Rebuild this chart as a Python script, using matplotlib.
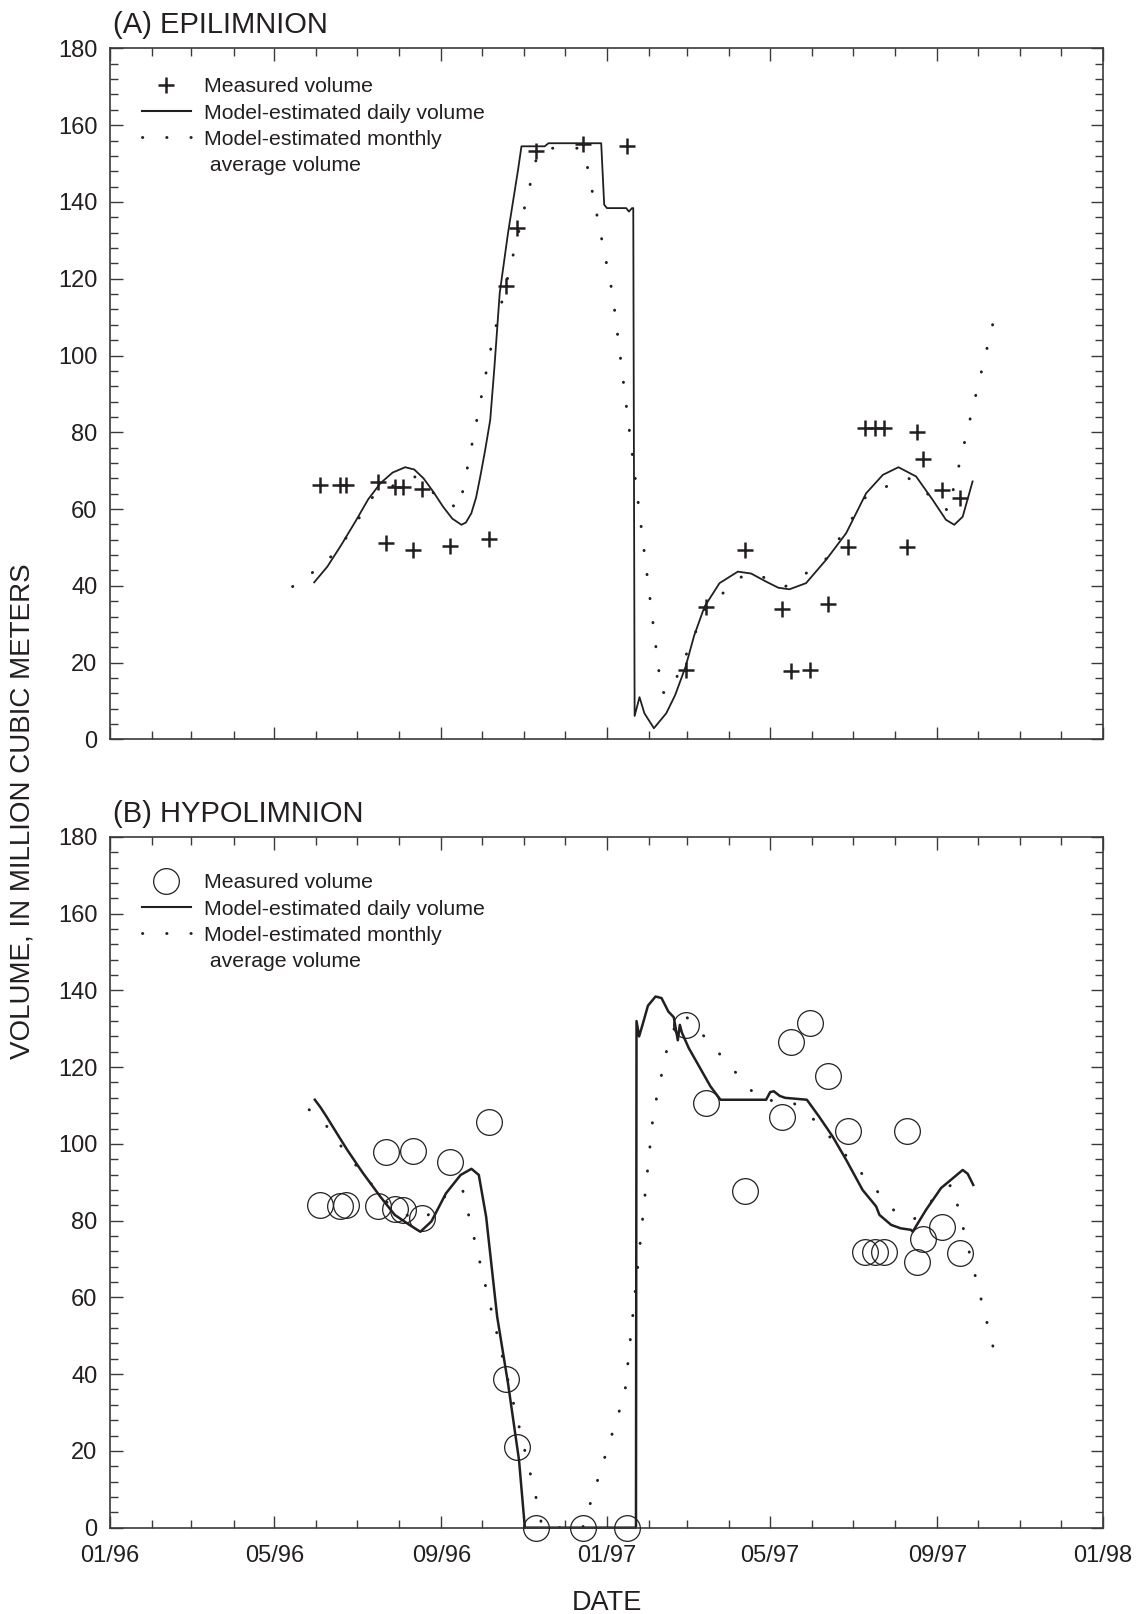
import numpy as np
import matplotlib
matplotlib.use('Agg')
import matplotlib.pyplot as plt
import matplotlib.dates as mdates
from matplotlib.ticker import MultipleLocator
from matplotlib.lines import Line2D

plt.rcParams['font.family'] = ['Liberation Sans', 'DejaVu Sans']

START = np.datetime64('1996-01-01')

# sampling visits, days after 1 Jan 1996 (same visits for both layers)
sample_days = [154.5, 169, 174, 197, 203.4, 209.6, 215.7, 223, 230, 250.6,
               279, 291.3, 299.6, 313.8, 348, 380.5, 423.7, 438.9, 467.5,
               494.5, 501.6, 515.4, 528.4, 543.6, 555.8, 563.1, 570, 586.4,
               594, 598.2, 612.2, 626]
epi_measured = [66.3, 66.3, 66.3, 67, 51.1, 65.8, 65.8, 49.4, 65.2, 50.5,
                52.2, 118, 133.2, 153.4, 155.2, 154.7, 18.2, 34.6, 49.4,
                33.9, 17.8, 18.1, 35.3, 50.1, 81.1, 81.1, 81.1, 50.1,
                80.2, 73.1, 65, 62.8]
hypo_measured = [84.1, 83.8, 84.1, 83.8, 98, 83, 82.7, 98.2, 80.6, 95.2,
                 105.6, 38.7, 20.9, 0, 0, 0, 131, 110.6, 87.8,
                 106.9, 126.6, 131.6, 117.7, 103.4, 71.8, 71.8, 71.8, 103.4,
                 69.2, 75.2, 78.4, 71.5]

# model-estimated daily volume
epi_daily_day = [150.3, 160, 170, 181.4, 190, 199, 208, 217.3, 224, 230.8,
                 238, 245.2, 252, 258.7, 262, 266, 269.5, 272.6, 276, 279.9,
                 283, 286.9, 293, 300.4, 302.9, 320, 322.8, 361.6, 363.8,
                 365.8, 380, 382, 384.3, 385.2, 386.2, 389.8, 393.4, 400.4,
                 409.5, 416, 423.7, 430, 437.7, 448.7, 462.2, 472, 483, 492,
                 500.2, 512.4, 527.2, 541.9, 556.6, 568.9, 580.4, 593.4,
                 605.6, 615.4, 621.5, 627.7, 635]
epi_daily = [40.9, 45, 50.5, 57.2, 62.5, 66.7, 69.5, 70.9, 70.3, 68,
             64.5, 60.6, 57.5, 55.9, 56.5, 58.9, 63, 68.5, 75, 83.2,
             97, 116.3, 131.9, 148.4, 154.5, 154.5, 155.3, 155.3, 139.3,
             138.4, 138.4, 137.5, 138.4, 138.4, 6.1, 11, 6.8, 2.9,
             6.8, 11.5, 18.9, 27, 34.6, 40.7, 43.7, 43.2, 41.1, 39.5,
             39.1, 40.7, 46.8, 53.7, 64.1, 68.9, 70.9, 68.5,
             62.4, 57.2, 55.9, 58, 67.2]

hypo_daily_day = [150.8, 155, 159.4, 169.2, 174.7, 186, 198.9, 209.6, 220.4,
                  228.5, 236.6, 247.3, 258.1, 266.1, 271.5, 276.9, 285, 293,
                  301.1, 305.4, 387.2, 387.6, 389.5, 392, 396, 401.6, 406,
                  411, 415, 418, 419.5, 421, 426, 434, 442, 449.4, 483, 486,
                  488.7, 493, 497, 513, 522, 532, 542, 554, 564, 566.4, 575,
                  582, 589.7, 590.9, 600.7, 611.8, 620.3, 627.7, 631.4, 635.5]
hypo_daily = [111.5, 109.5, 107.1, 101.5, 98.4, 92.5, 86.3, 81.5, 78.9,
              77.1, 79.8, 87.1, 91.9, 93.5, 91.9, 81, 55, 37.6,
              17.6, 0, 0, 132, 128, 131, 136, 138.4, 138,
              134.5, 133, 127, 131, 129, 125, 120, 115, 111.5, 111.5, 113.5,
              113.7, 112.5, 112, 111.5, 107.1, 101.9, 95.8, 88, 83.7, 81.5, 78.9,
              78, 77.6, 77.1, 82.8, 88.5, 91, 93.2, 92.2, 89.3]

# model-estimated monthly average volume (dotted)
epi_monthly_day = [134.4, 158, 172, 195, 224, 242, 257, 261, 281, 314, 319,
                   346, 350, 370, 406, 412.5, 438, 449, 467, 476, 497, 509,
                   527, 540, 556, 575, 588, 617, 650.2]
epi_monthly = [39.8, 45.7, 51.5, 64, 68.5, 63, 60, 67, 103, 151.5, 154,
               154, 151.7, 116, 12.2, 12.2, 33.8, 37.4, 43, 43, 39.8, 42.4,
               47, 54, 63, 66.5, 68, 59.5, 108.7]
hypo_monthly_day = [146.6, 158.7, 175, 203, 225, 233, 250, 259.2, 316.2, 318,
                    348, 379, 400, 412, 422, 440, 478, 502, 520, 580, 592,
                    609, 620, 650]
hypo_monthly = [108.9, 105, 97, 85, 80, 81, 87.6, 88.6, 4, 0,
                0, 35, 108, 128, 134, 127, 111.5, 111, 105.8, 81.5, 80.4,
                86.7, 89.5, 47.2]

INK = '#231f20'
AXC = '#3a3a3a'


def to_num(days):
    return mdates.date2num(START) + np.asarray(days, dtype=float)


def style_axes(ax, show_dates):
    ax.set_xlim(mdates.date2num(np.datetime64('1996-01-01')),
                mdates.date2num(np.datetime64('1998-01-01')))
    ax.set_ylim(0, 180)
    ax.xaxis.set_major_locator(mdates.MonthLocator(bymonth=[1, 5, 9]))
    ax.xaxis.set_minor_locator(mdates.MonthLocator())
    ax.xaxis.set_major_formatter(mdates.DateFormatter('%m/%y'))
    ax.yaxis.set_major_locator(MultipleLocator(20))
    ax.yaxis.set_minor_locator(MultipleLocator(4))
    ax.tick_params(which='both', direction='in', top=True, right=True,
                   color=AXC, width=1.0, labelsize=17, labelcolor=INK)
    ax.tick_params(which='major', length=9)
    ax.tick_params(which='minor', length=6)
    ax.tick_params(axis='x', pad=12.5, labelbottom=show_dates)
    ax.tick_params(axis='y', pad=9)
    for s in ax.spines.values():
        s.set_color(AXC)
        s.set_linewidth(1.2)


def draw_panel(ax, title, measured, marker_kw, daily_day, daily, daily_lw,
               monthly_day, monthly, legend_y, show_dates):
    dots_kw = dict(color=INK, lw=2.1, dashes=(0.1, 8.2),
                   dash_capstyle='round')
    ax.plot(to_num(monthly_day), monthly, **dots_kw)
    ax.plot(to_num(daily_day), daily, color=INK, lw=daily_lw,
            solid_joinstyle='round', clip_on=False)
    ax.plot(to_num(sample_days), measured, ls='none', clip_on=False,
            zorder=4, **marker_kw)
    style_axes(ax, show_dates)
    ax.text(0.003, 1.022, title, transform=ax.transAxes, fontsize=21,
            color=INK, va='baseline', ha='left')

    handles = [Line2D([], [], ls='none', **marker_kw),
               Line2D([], [], color=INK, lw=1.5),
               Line2D([], [], **dots_kw),
               Line2D([], [], ls='none')]
    labels = ['Measured volume', 'Model-estimated daily volume',
              'Model-estimated monthly', ' average volume']
    leg = ax.legend(handles, labels, loc='upper left',
                    bbox_to_anchor=(0.0322, legend_y), frameon=False,
                    borderaxespad=0, borderpad=0, fontsize=15.3,
                    handlelength=2.3, handletextpad=0.6, labelspacing=0.34,
                    numpoints=1)
    for t in leg.get_texts():
        t.set_color(INK)


fig = plt.figure(figsize=(11.41, 16.14), dpi=100)
ax_top = fig.add_axes([0.0964, 0.5419, 0.8703, 0.4281])
ax_bot = fig.add_axes([0.0964, 0.0535, 0.8703, 0.4280])

draw_panel(ax_top, '(A) EPILIMNION', epi_measured,
           dict(marker='+', ms=11, mew=1.8, color=INK),
           epi_daily_day, epi_daily, 1.3,
           epi_monthly_day, epi_monthly, 0.958, False)
draw_panel(ax_bot, '(B) HYPOLIMNION', hypo_measured,
           dict(marker='o', ms=18.5, mew=0.9, mfc='none', mec=INK),
           hypo_daily_day, hypo_daily, 1.8,
           hypo_monthly_day, hypo_monthly, 0.947, True)

fig.text(0.0193, 0.4975, 'VOLUME, IN MILLION CUBIC METERS', rotation=90,
         ha='center', va='center', fontsize=20, color=INK)
fig.text(0.5316, 0.0025, 'DATE', ha='center', va='baseline',
         fontsize=19.5, color=INK)

fig.savefig('out.png', dpi=100)
